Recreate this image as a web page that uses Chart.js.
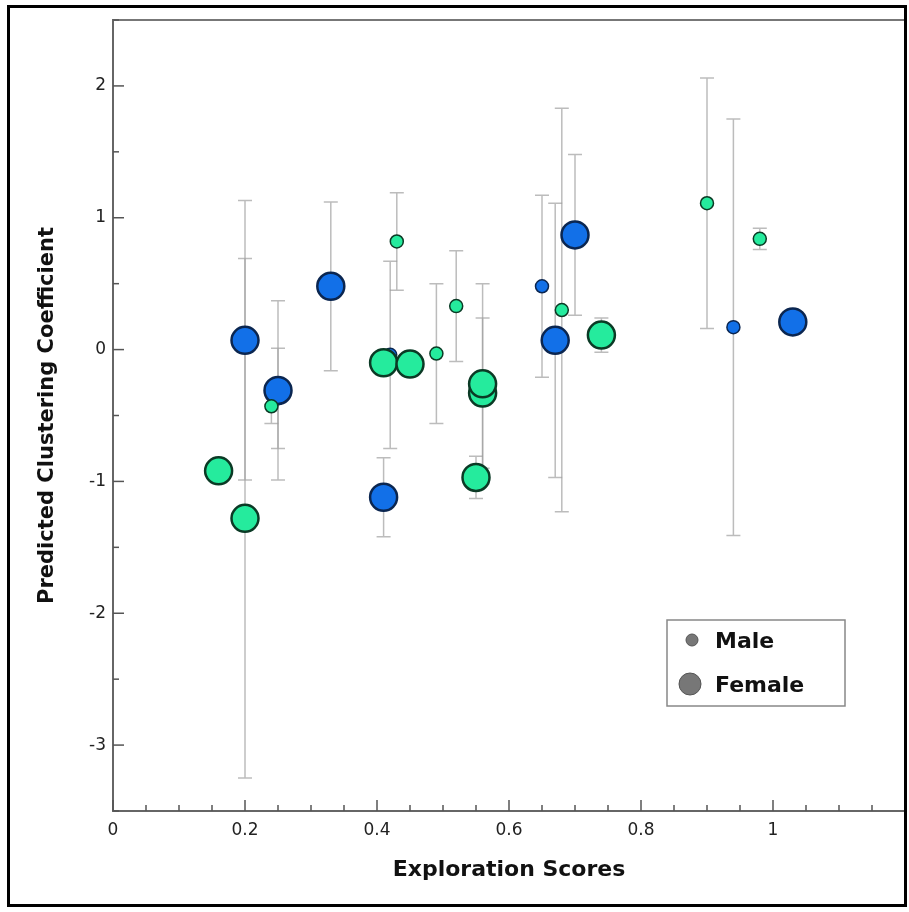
<!DOCTYPE html>
<html>
<head>
<meta charset="utf-8">
<script src="https://cdn.jsdelivr.net/npm/chart.js@4.4.1/dist/chart.umd.min.js"></script>
<style>
  html, body { margin: 0; padding: 0; background: #fff; }
  #wrap { position: relative; width: 909px; height: 912px; }
</style>
</head>
<body>
<div id="wrap"><canvas id="c" width="909" height="912"></canvas></div>
<script>
// ---- data ----
// Female (large markers), blue group
const femaleBlueX   = [0.20, 0.25, 0.33, 0.41, 0.67, 0.70, 1.03];
const femaleBlueY   = [0.07, -0.31, 0.48, -1.12, 0.07, 0.87, 0.21];
const femaleBlueErr = [1.06, 0.68, 0.64, 0.30, 1.04, 0.61, 0];
// Female (large markers), green group
const femaleGreenX   = [0.16, 0.20, 0.41, 0.45, 0.56, 0.56, 0.55, 0.74];
const femaleGreenY   = [-0.92, -1.28, -0.10, -0.11, -0.33, -0.26, -0.97, 0.11];
const femaleGreenErr = [0, 1.97, 0, 0, 0.57, 0.76, 0.16, 0.13];
// Male (small markers), blue group
const maleBlueX   = [0.25, 0.42, 0.65, 0.94];
const maleBlueY   = [-0.37, -0.04, 0.48, 0.17];
const maleBlueErr = [0.38, 0.71, 0.69, 1.58];
// Male (small markers), green group
const maleGreenX   = [0.24, 0.43, 0.49, 0.52, 0.68, 0.90, 0.98];
const maleGreenY   = [-0.43, 0.82, -0.03, 0.33, 0.30, 1.11, 0.84];
const maleGreenErr = [0.13, 0.37, 0.53, 0.42, 1.53, 0.95, 0.08];

const xTickLabels = ['0', '0.2', '0.4', '0.6', '0.8', '1'];
const yTickLabels = ['-3', '-2', '-1', '0', '1', '2'];
const legendLabels = ['Male', 'Female'];
const xTitle = 'Exploration Scores';
const yTitle = 'Predicted Clustering Coefficient';

// ---- styles ----
const BLUE = '#1270e8', BLUE_EDGE = '#0b2650';
const GREEN = '#25eb9d', GREEN_EDGE = '#0b3a25';

function pts(xs, ys) { return xs.map((x, i) => ({ x: x, y: ys[i] })); }

// dataset index 0 is drawn on top
const errByDataset = [maleGreenErr, femaleGreenErr, femaleBlueErr, maleBlueErr];

const datasets = [
  { label: 'Male green', data: pts(maleGreenX, maleGreenY), pointRadius: 6.5, borderWidth: 1.5,
    backgroundColor: GREEN, borderColor: GREEN_EDGE },
  { label: 'Female green', data: pts(femaleGreenX, femaleGreenY), pointRadius: 13.5, borderWidth: 2.5,
    backgroundColor: GREEN, borderColor: GREEN_EDGE },
  { label: 'Female blue', data: pts(femaleBlueX, femaleBlueY), pointRadius: 13.5, borderWidth: 2.5,
    backgroundColor: BLUE, borderColor: BLUE_EDGE },
  { label: 'Male blue', data: pts(maleBlueX, maleBlueY), pointRadius: 6.5, borderWidth: 1.5,
    backgroundColor: BLUE, borderColor: BLUE_EDGE }
];
datasets.forEach(d => { d.pointHoverRadius = d.pointRadius; d.showLine = false; });

function nearMultiple(v, step) { const q = v / step; return Math.abs(q - Math.round(q)) < 1e-6; }

const errorBars = {
  id: 'errorBars',
  beforeDatasetsDraw(chart) {
    const ctx = chart.ctx, xs = chart.scales.x, ys = chart.scales.y;
    ctx.save();
    ctx.strokeStyle = 'rgba(160,160,160,0.7)';
    ctx.lineWidth = 1.5;
    chart.data.datasets.forEach((ds, di) => {
      const errs = errByDataset[di];
      ds.data.forEach((p, i) => {
        const e = errs[i];
        if (!e) return;
        const px = xs.getPixelForValue(p.x);
        const y1 = ys.getPixelForValue(p.y + e), y2 = ys.getPixelForValue(p.y - e);
        ctx.beginPath();
        ctx.moveTo(px, y1); ctx.lineTo(px, y2);
        ctx.moveTo(px - 7, y1); ctx.lineTo(px + 7, y1);
        ctx.moveTo(px - 7, y2); ctx.lineTo(px + 7, y2);
        ctx.stroke();
      });
    });
    ctx.restore();
  }
};

const decor = {
  id: 'decor',
  afterDraw(chart) {
    const ctx = chart.ctx, xs = chart.scales.x, ys = chart.scales.y, a = chart.chartArea;
    ctx.save();
    // top frame line of plot
    ctx.strokeStyle = '#777'; ctx.lineWidth = 2;
    ctx.beginPath(); ctx.moveTo(a.left, a.top); ctx.lineTo(a.right, a.top); ctx.stroke();
    // inward ticks
    ctx.strokeStyle = '#555'; ctx.lineWidth = 1.5;
    xs.ticks.forEach(t => {
      const px = xs.getPixelForValue(t.value);
      const len = nearMultiple(t.value, 0.2) ? 11 : 6;
      ctx.beginPath(); ctx.moveTo(px, a.bottom); ctx.lineTo(px, a.bottom - len); ctx.stroke();
    });
    ys.ticks.forEach(t => {
      const py = ys.getPixelForValue(t.value);
      const len = nearMultiple(t.value, 1) ? 11 : 6;
      ctx.beginPath(); ctx.moveTo(a.left, py); ctx.lineTo(a.left + len, py); ctx.stroke();
    });
    // legend
    const lx = 667, ly = 620, lw = 178, lh = 86;
    ctx.fillStyle = '#fff'; ctx.fillRect(lx, ly, lw, lh);
    ctx.strokeStyle = '#888'; ctx.lineWidth = 1.5; ctx.strokeRect(lx, ly, lw, lh);
    ctx.fillStyle = '#777'; ctx.strokeStyle = '#555'; ctx.lineWidth = 1;
    ctx.beginPath(); ctx.arc(692, 640, 6, 0, Math.PI * 2); ctx.fill(); ctx.stroke();
    ctx.beginPath(); ctx.arc(690, 684, 11, 0, Math.PI * 2); ctx.fill(); ctx.stroke();
    ctx.fillStyle = '#111';
    ctx.font = 'bold 22px "DejaVu Sans"';
    ctx.textBaseline = 'middle'; ctx.textAlign = 'left';
    ctx.fillText(legendLabels[0], 715, 642);
    ctx.fillText(legendLabels[1], 715, 686);
    // outer frame
    ctx.strokeStyle = '#000'; ctx.lineWidth = 3;
    ctx.strokeRect(8.5, 6.5, 897, 899);
    ctx.restore();
  }
};

new Chart(document.getElementById('c'), {
  type: 'scatter',
  data: { datasets: datasets },
  options: {
    responsive: false,
    animation: false,
    events: [],
    layout: { autoPadding: false, padding: { top: 20, right: 4, left: 0, bottom: 0 } },
    plugins: { legend: { display: false }, tooltip: { enabled: false } },
    scales: {
      x: {
        type: 'linear', min: 0, max: 1.2,
        afterFit(s) { s.height = 101; s.paddingLeft = 0; s.paddingRight = 0; },
        ticks: {
          stepSize: 0.05, autoSkip: false, maxRotation: 0, padding: 9,
          color: '#222', font: { family: 'DejaVu Sans', size: 17 },
          callback(v) {
            if (!nearMultiple(v, 0.2)) return '';
            return xTickLabels[Math.round(v / 0.2)] || '';
          }
        },
        grid: { display: false, drawTicks: false },
        border: { display: true, color: '#666', width: 2 },
        title: { display: true, text: xTitle, color: '#111',
          font: { family: 'DejaVu Sans', size: 22, weight: 'bold' }, padding: { top: 0, bottom: 29 } }
      },
      y: {
        type: 'linear', min: -3.5, max: 2.5,
        afterFit(s) { s.width = 113; s.paddingTop = 0; s.paddingBottom = 0; },
        ticks: {
          stepSize: 0.5, autoSkip: false, padding: 7,
          color: '#222', font: { family: 'DejaVu Sans', size: 17 },
          callback(v) {
            if (!nearMultiple(v, 1)) return '';
            return yTickLabels[Math.round(v) + 3] || '';
          }
        },
        grid: { display: false, drawTicks: false },
        border: { display: true, color: '#666', width: 2 },
        title: { display: true, text: yTitle, color: '#111',
          font: { family: 'DejaVu Sans', size: 21, weight: 'bold' }, padding: { top: 35, bottom: 0 } }
      }
    }
  },
  plugins: [errorBars, decor]
});
</script>
</body>
</html>
